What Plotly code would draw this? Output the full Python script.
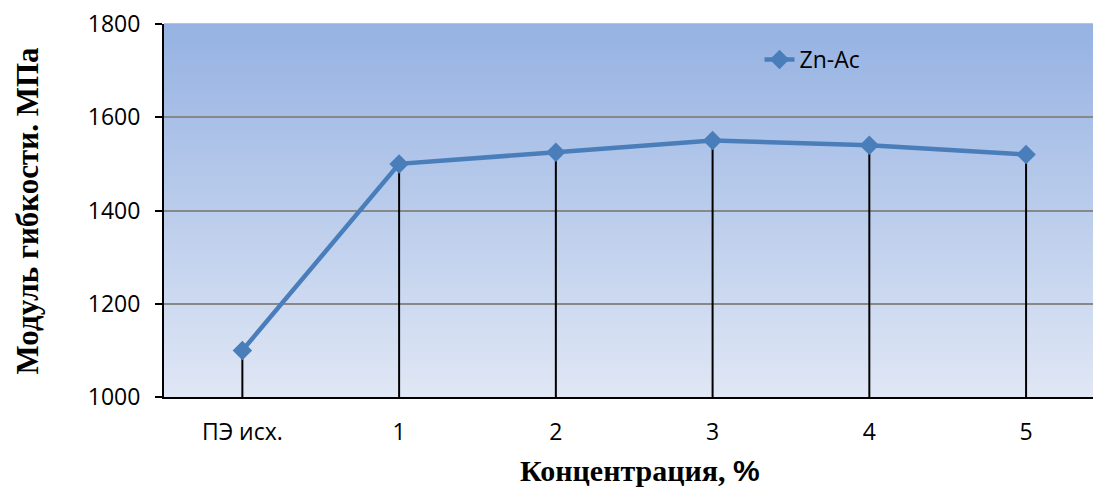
import plotly.graph_objects as go

categories = ["ПЭ исх.", "1", "2", "3", "4", "5"]
modulus = [1100, 1500, 1525, 1550, 1540, 1520]
series_name = "Zn-Ac"
y_ticks = [1000, 1200, 1400, 1600, 1800]

fig = go.Figure()

# drop lines from each point to the x axis
dx, dy = [], []
for c, v in zip(categories, modulus):
    dx += [c, c, None]
    dy += [y_ticks[0], v, None]
fig.add_trace(go.Scatter(x=dx, y=dy, mode="lines", line=dict(color="black", width=2),
                         showlegend=False, hoverinfo="skip"))

fig.add_trace(go.Scatter(x=categories, y=modulus, mode="lines+markers", name=series_name,
                         line=dict(color="#4A7EBB", width=4.5),
                         marker=dict(symbol="diamond", size=15, color="#4A7EBB")))

# gradient background
top = (149, 178, 226)
bot = (224, 231, 245)
n = 120
shapes = []
for i in range(n):
    t = (i + 0.5) / n
    col = tuple(round(bot[k] + (top[k] - bot[k]) * t) for k in range(3))
    shapes.append(dict(type="rect", xref="paper", yref="paper", x0=0, x1=1,
                       y0=i / n, y1=(i + 1) / n + 0.002, layer="below",
                       line=dict(width=0), fillcolor="rgb(%d,%d,%d)" % col))

fig.update_layout(
    width=1093, height=488,
    margin=dict(l=164, r=0, t=24, b=91, autoexpand=False),
    paper_bgcolor="white", plot_bgcolor="white",
    shapes=shapes,
    font=dict(family="Open Sans", size=23, color="black"),
    showlegend=True,
    legend=dict(x=0.641, y=0.905, xanchor="left", yanchor="middle",
                bgcolor="rgba(0,0,0,0)", font=dict(size=23)),
    xaxis=dict(type="category", range=[-0.5, 5.427], showgrid=False,
               showline=True, linecolor="black", linewidth=2, ticks="",
               tickfont=dict(size=23), ticklabelstandoff=13, automargin=False),
    yaxis=dict(range=[1000, 1800], tickvals=y_ticks, showgrid=True,
               gridcolor="#888888", gridwidth=1.6, showline=True, linecolor="black",
               linewidth=2, ticks="outside", ticklen=7, tickcolor="black", tickwidth=2,
               tickfont=dict(size=23), zeroline=False, ticklabelstandoff=10,
               automargin=False),
    annotations=[
        dict(text="<b>Модуль гибкости. МПа</b>", xref="paper", yref="paper",
             x=-0.1464, y=0.5, xanchor="center", yanchor="middle", textangle=-90,
             showarrow=False, font=dict(family="Liberation Serif", size=31)),
        dict(text="<b>Концентрация, </b><span style='font-family:Liberation Sans'><b>%</b></span>",
             xref="paper", yref="paper",
             x=0.512, y=-0.196, xanchor="center", yanchor="middle",
             showarrow=False, font=dict(family="Liberation Serif", size=30)),
    ],
)

fig.write_html("out.html", config={"displayModeBar": False},
               post_script="document.body.style.margin='0';document.body.style.overflow='hidden';")
